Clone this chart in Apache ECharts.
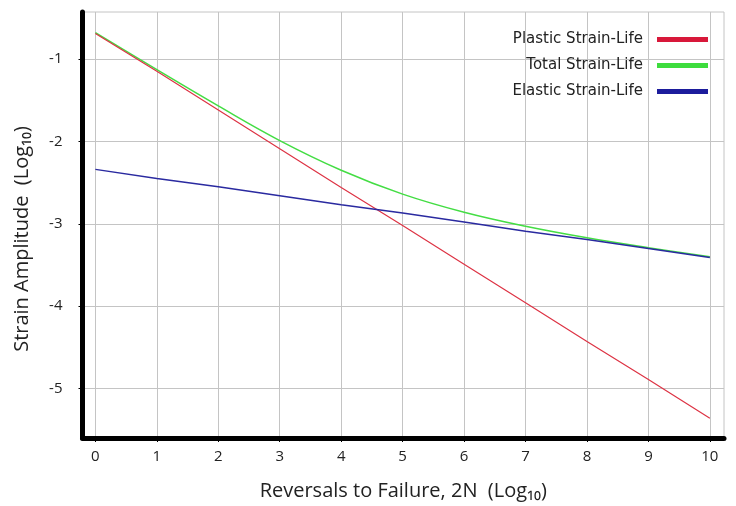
<!DOCTYPE html>
<html><head><meta charset="utf-8">
<script src="https://cdn.jsdelivr.net/npm/echarts@6/dist/echarts.min.js"></script>
<style>html,body{margin:0;padding:0;background:#fff}#c{width:736px;height:506px}</style>
</head><body><div id="c"></div>
<script>
var xVals = [0, 1, 2, 3, 4, 5, 6, 7, 8, 9, 10];
var plastic = [-0.69, -1.15, -1.62, -2.09, -2.56, -3.02, -3.49, -3.96, -4.43, -4.89, -5.36];
var total   = [-0.68, -1.13, -1.57, -1.99, -2.35, -2.64, -2.86, -3.03, -3.17, -3.29, -3.40];
var elastic = [-2.34, -2.45, -2.55, -2.66, -2.77, -2.87, -2.98, -3.09, -3.19, -3.30, -3.41];
var xTicks = [0, 1, 2, 3, 4, 5, 6, 7, 8, 9, 10];
var yTicks = [-1, -2, -3, -4, -5];
var seriesNames = ['Plastic Strain-Life', 'Total Strain-Life', 'Elastic Strain-Life'];

function pairs(ys){ return xVals.map(function(x,i){ return [x, ys[i]]; }); }
var font = 'Open Sans';
var chart = echarts.init(document.getElementById('c'));
chart.setOption({
  animation: false,
  backgroundColor: '#fff',
  grid: { left: 82.5, right: 12, top: 12, bottom: 66, show: true, borderColor: '#c4c4c4', borderWidth: 1, backgroundColor: 'transparent' },
  legend: {
    orient: 'vertical', right: 23, top: 27, align: 'right',
    itemWidth: 51, itemHeight: 5, itemGap: 11, icon: 'rect',
    textStyle: { fontFamily: 'DejaVu Sans', fontSize: 15, color: '#222', padding: [0, 9, 0, 0] },
    data: seriesNames
  },
  xAxis: {
    type: 'value', min: -0.21, max: 10.23,
    name: 'Reversals to Failure, 2N  (Log\u2081\u2080)', nameLocation: 'middle', nameGap: 43,
    nameTextStyle: { fontFamily: font, fontSize: 20, color: '#222' },
    axisLine: { show: true, onZero: false, lineStyle: { color: '#000', width: 5 } },
    axisTick: { show: true, length: 4, customValues: xTicks, lineStyle: { color: '#000', width: 1 } },
    axisLabel: { customValues: xTicks, margin: 11, fontFamily: font, fontSize: 15, color: '#222' },
    splitLine: { show: true, customValues: xTicks, lineStyle: { color: '#c4c4c4', width: 1 } }
  },
  yAxis: {
    type: 'value', min: -5.60, max: -0.43,
    name: 'Strain Amplitude  (Log\u2081\u2080)', nameLocation: 'middle', nameGap: 50,
    nameTextStyle: { fontFamily: font, fontSize: 20, color: '#222', padding: [0, 28, 0, 0] },
    axisLine: { show: true, onZero: false, lineStyle: { color: '#000', width: 5 } },
    axisTick: { show: true, length: 4, customValues: yTicks, lineStyle: { color: '#000', width: 1 } },
    axisLabel: { customValues: yTicks, margin: 20, fontFamily: font, fontSize: 15, color: '#222' },
    splitLine: { show: true, customValues: yTicks, lineStyle: { color: '#c4c4c4', width: 1 } }
  },
  series: [
    { name: seriesNames[0], type: 'line', data: pairs(plastic), showSymbol: false, symbol: 'none', color: '#d8183a', lineStyle: { width: 1.2, color: '#dd3344' }, z: 3 },
    { name: seriesNames[1], type: 'line', data: pairs(total), smooth: 0.4, showSymbol: false, symbol: 'none', color: '#3ddc3d', lineStyle: { width: 1.5, color: '#44dd44' }, z: 2 },
    { name: seriesNames[2], type: 'line', data: pairs(elastic), showSymbol: false, symbol: 'none', color: '#1c1c9c', lineStyle: { width: 1.5, color: '#2a2aa0' }, z: 4 }
  ]
});
</script></body></html>
